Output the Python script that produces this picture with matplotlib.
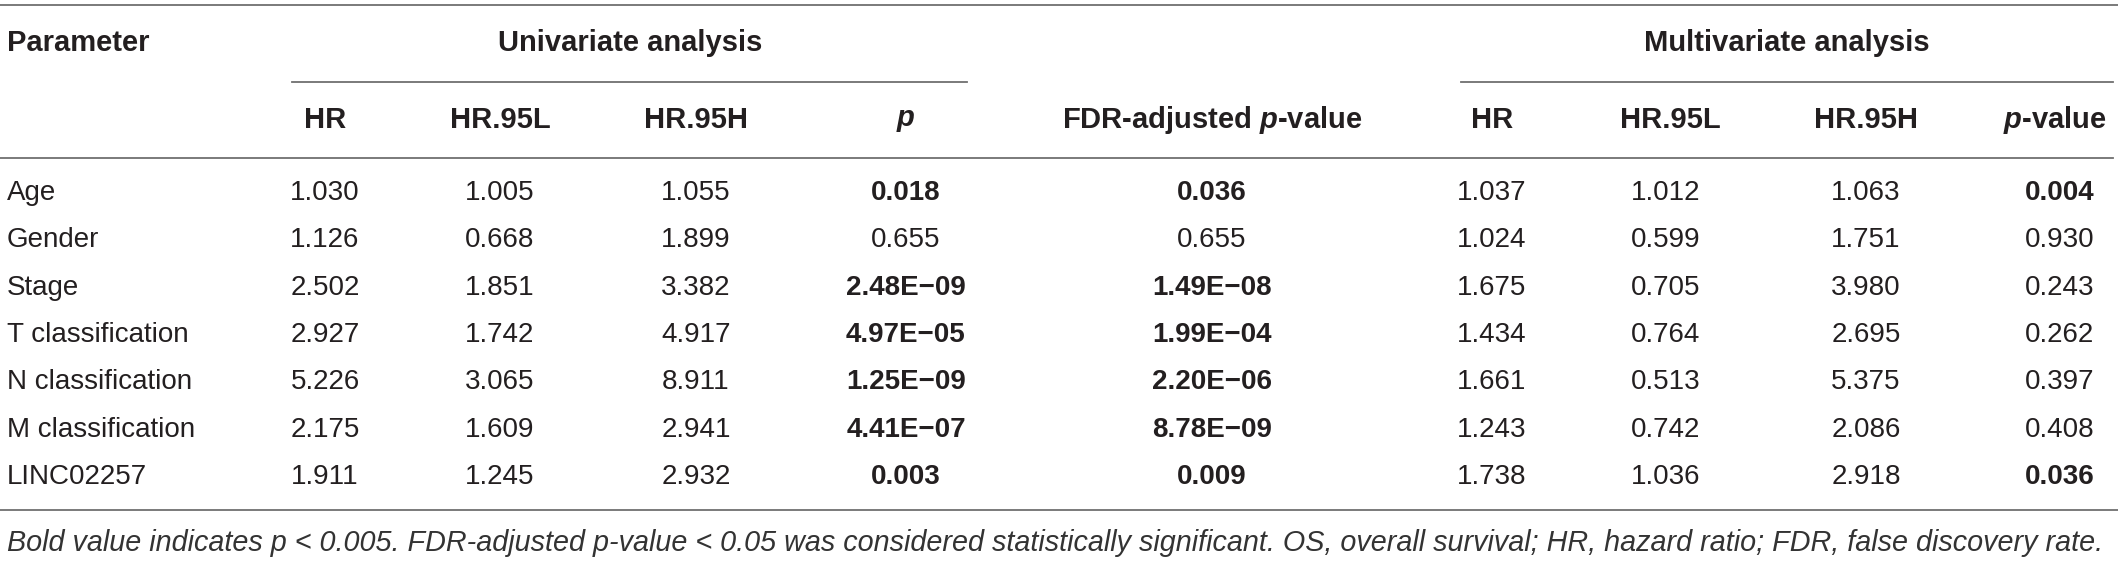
import matplotlib
matplotlib.use("Agg")
import matplotlib.pyplot as plt

plt.rcParams['font.family'] = ['Liberation Sans', 'DejaVu Sans']
plt.rcParams['mathtext.fontset'] = 'custom'
plt.rcParams['mathtext.it'] = 'Liberation Sans:italic:bold'
plt.rcParams['mathtext.rm'] = 'Liberation Sans:bold'

# table content
parameters = ["Age", "Gender", "Stage", "T classification", "N classification",
              "M classification", "LINC02257"]
uni_hr = ["1.030", "1.126", "2.502", "2.927", "5.226", "2.175", "1.911"]
uni_l = ["1.005", "0.668", "1.851", "1.742", "3.065", "1.609", "1.245"]
uni_h = ["1.055", "1.899", "3.382", "4.917", "8.911", "2.941", "2.932"]
uni_p = ["0.018", "0.655", "2.48E\u221209", "4.97E\u221205", "1.25E\u221209",
         "4.41E\u221207", "0.003"]
fdr_p = ["0.036", "0.655", "1.49E\u221208", "1.99E\u221204", "2.20E\u221206",
         "8.78E\u221209", "0.009"]
multi_hr = ["1.037", "1.024", "1.675", "1.434", "1.661", "1.243", "1.738"]
multi_l = ["1.012", "0.599", "0.705", "0.764", "0.513", "0.742", "1.036"]
multi_h = ["1.063", "1.751", "3.980", "2.695", "5.375", "2.086", "2.918"]
multi_p = ["0.004", "0.930", "0.243", "0.262", "0.397", "0.408", "0.036"]

uni_p_bold = [True, False, True, True, True, True, True]
fdr_bold = [True, False, True, True, True, True, True]
multi_p_bold = [True, False, False, False, False, False, True]

sub_headers = ["HR", "HR.95L", "HR.95H", r"$p$", r"FDR-adjusted $p$-value",
               "HR", "HR.95L", "HR.95H", r"$p$-value"]
caption = ("Bold value indicates p < 0.005. FDR-adjusted p-value < 0.05 was considered "
           "statistically significant. OS, overall survival; HR, hazard ratio; "
           "FDR, false discovery rate.")

W, H = 2118, 562
fig = plt.figure(figsize=(W / 100, H / 100), dpi=100)
ax = fig.add_axes([0, 0, 1, 1])
ax.set_xlim(0, W)
ax.set_ylim(H, 0)
ax.set_axis_off()

txt = "#231f20"
line_c = "#707070"
hdr_fs = 21
val_fs = 20

col_x = [325, 500, 696, 906, 1212, 1492, 1666, 1866, 2060]
hdr_x = [325, 500, 696, 906, 1212, 1492, 1670, 1866, 2055]
row_y = [193, 240, 288, 335, 382, 430, 477]

# rules
ax.plot([0, W], [5, 5], color=line_c, lw=1.3)
ax.plot([292, 967], [82, 82], color=line_c, lw=1.3)
ax.plot([1461, 2113], [82, 82], color=line_c, lw=1.3)
ax.plot([0, 2113], [158, 158], color=line_c, lw=1.3)
ax.plot([0, W], [510, 510], color=line_c, lw=1.3)

# headers
ax.text(7, 43, "Parameter", fontsize=hdr_fs, fontweight='bold', color=txt,
        ha='left', va='center')
ax.text(630, 43, "Univariate analysis", fontsize=hdr_fs, fontweight='bold',
        color=txt, ha='center', va='center')
ax.text(1787, 43, "Multivariate analysis", fontsize=hdr_fs, fontweight='bold',
        color=txt, ha='center', va='center')
for x, s in zip(hdr_x, sub_headers):
    ax.text(x, 120, s, fontsize=hdr_fs, fontweight='bold', color=txt,
            ha='center', va='center')

# body
columns = [uni_hr, uni_l, uni_h, uni_p, fdr_p, multi_hr, multi_l, multi_h, multi_p]
bolds = [None, None, None, uni_p_bold, fdr_bold, None, None, None, multi_p_bold]
for i, y in enumerate(row_y):
    ax.text(7, y, parameters[i], fontsize=val_fs, color=txt, ha='left', va='center')
    for x, col, b in zip(col_x, columns, bolds):
        w = 'bold' if (b is not None and b[i]) else 'normal'
        ax.text(x, y, col[i], fontsize=val_fs, fontweight=w, color=txt,
                ha='center', va='center')

# caption, scaled to span the table width
cap = ax.text(7, 543, caption, fontsize=18, style='italic', color="#333333",
              ha='left', va='center')
fig.canvas.draw()
ext = cap.get_window_extent()
cap.set_fontsize(18 * (2105 - 7) / ext.width)

fig.savefig("out.png", dpi=100)
